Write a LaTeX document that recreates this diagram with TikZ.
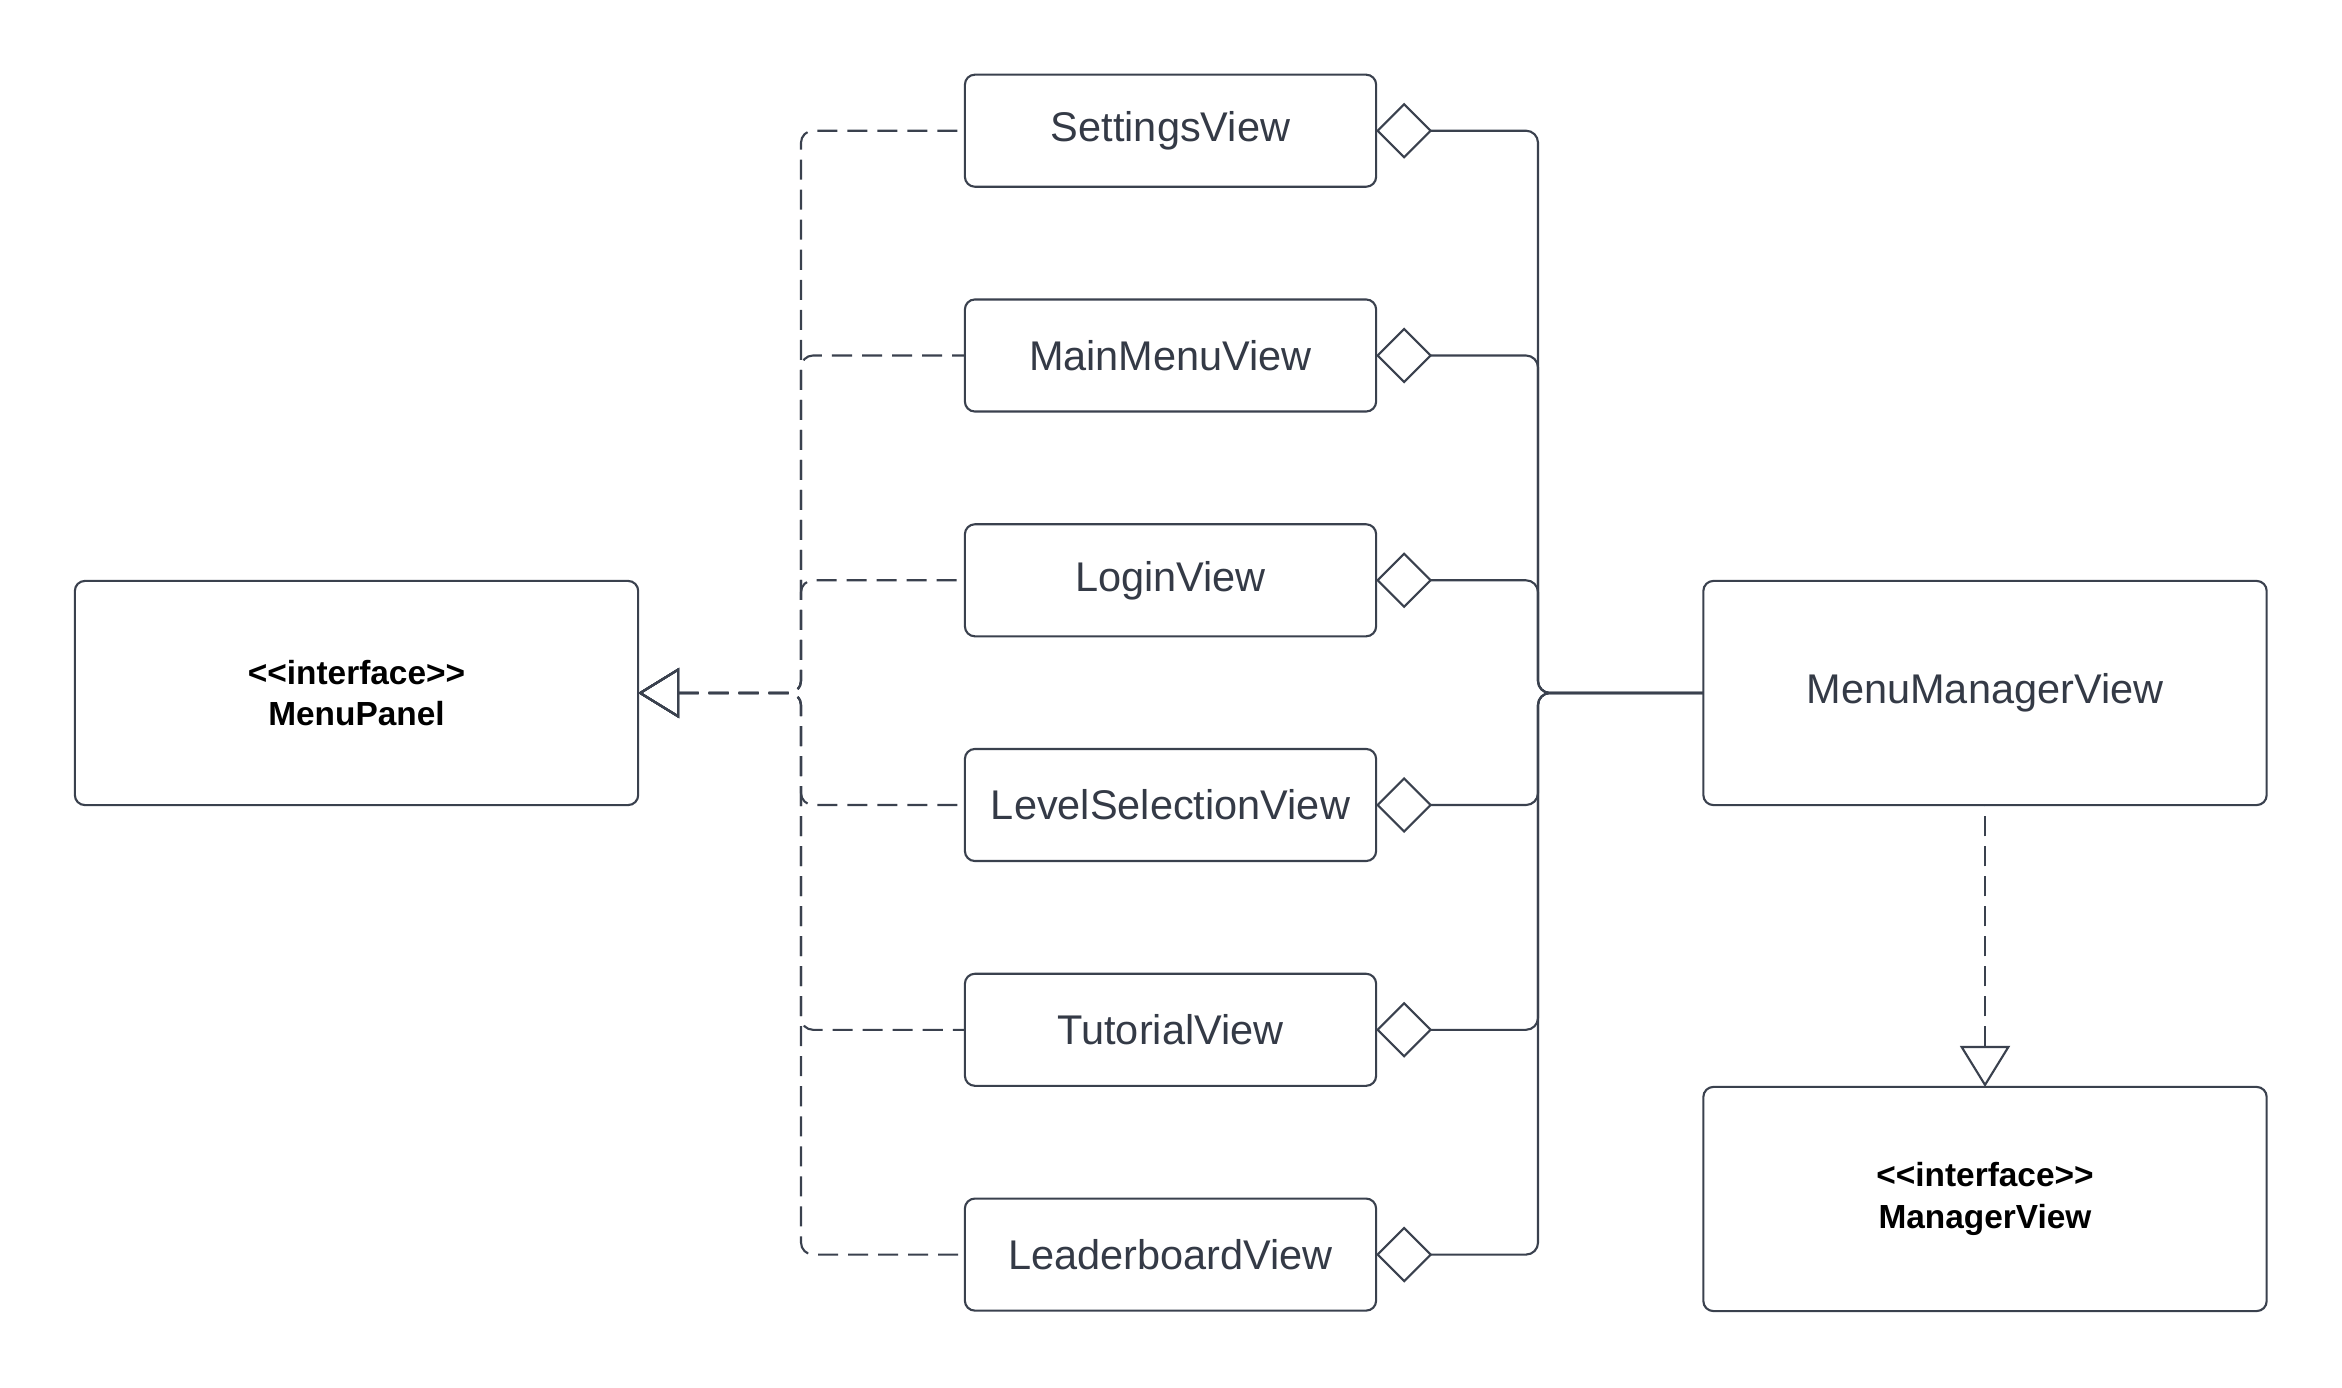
\documentclass[tikz,border=0pt]{standalone}
\usepackage{fontspec}
\setmainfont{Liberation Sans}
\usetikzlibrary{arrows.meta,positioning}
\definecolor{linecolor}{RGB}{58,65,78}
\definecolor{labelcolor}{RGB}{52,58,70}

\tikzset{
  viewbox/.style={draw=linecolor, line width=0.6pt, rounded corners=0.1cm, minimum width=4.11cm, minimum height=1.12cm, inner sep=0pt, outer sep=0pt, text=labelcolor, font=\fontsize{11.8}{14}\selectfont},
  bigbox/.style={viewbox, minimum width=5.63cm, minimum height=2.24cm},
  ifacebox/.style={bigbox, text=black, align=center, font=\fontsize{9.5}{11.9}\selectfont\bfseries},
  realize/.style={draw=linecolor, line width=0.6pt, dash pattern=on 0.2cm off 0.1cm, rounded corners=0.12cm, {Triangle[open,length=0.41cm,width=0.5cm]}-},
  aggregate/.style={draw=linecolor, line width=0.6pt, rounded corners=0.12cm, -{Diamond[open,length=0.56cm,width=0.56cm]}},
}

\begin{document}
\begin{tikzpicture}[x=0.01cm, y=-0.01cm]
    \useasboundingbox (0,0) rectangle (2342,1388);
    % Interfaces and manager
    \node[ifacebox] (mp) at (356.5,693) {{<}{<}interface{>}{>}\\MenuPanel};
    \node[bigbox] (mmv) at (1985,693) {MenuManagerView};
    \node[ifacebox] (mgr) at (1985,1199) {{<}{<}interface{>}{>}\\ManagerView};
    % Views (column in the middle)
    \foreach \name/\lab/\y in {sv/SettingsView/130.7, mmenu/MainMenuView/355.5, lv/LoginView/580.3, lsv/LevelSelectionView/805, tv/TutorialView/1029.8, lbv/LeaderboardView/1254.6} {
      \node[viewbox] (\name) at (1170.5,\y) {\lab};
    }
    % Bus corners
    \coordinate (lbus) at (801,693);
    \coordinate (rbus) at (1538,693);
    % Realizations of MenuPanel and aggregation in MenuManagerView
    \foreach \name in {sv, mmenu, lv, lsv, tv, lbv} {
      \draw[realize] (mp.east) -- (lbus) |- (\name.west);
      \draw[aggregate] (mmv.west) -- (rbus) |- (\name.east);
    }
    \draw[realize] (mgr.north) -- (mmv.south);
\end{tikzpicture}
\end{document}
